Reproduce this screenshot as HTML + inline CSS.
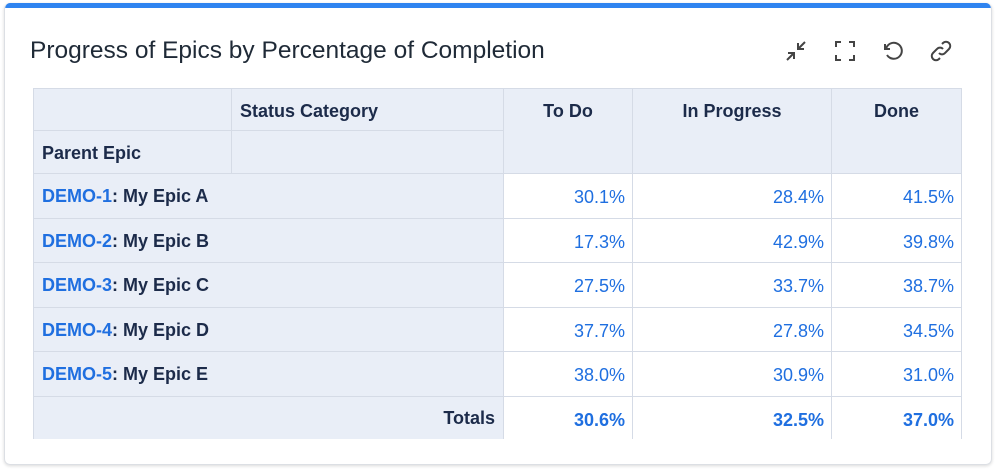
<!DOCTYPE html>
<html><head><style>
body{margin:0;width:998px;height:469px;background:#fff;font-family:"Liberation Sans",sans-serif;position:relative;overflow:hidden}
.card{position:absolute;left:4px;top:3px;width:986px;height:461px;border:1px solid #dcdfe4;border-top:none;border-radius:6px;box-shadow:0 1px 3px rgba(0,0,0,.15);overflow:hidden}
.bar{position:absolute;left:0;top:0;width:100%;height:5px;background:#2f84f0}
.title{position:absolute;left:25px;top:34px;font-size:24.5px;color:#1f2a37}
.c{position:absolute;box-sizing:border-box;border-right:1px solid #d5dbe6;border-bottom:1px solid #d5dbe6;font-size:18px}
.h{background:#e9eef7;color:#1c2b4a;font-weight:bold}
.v{color:#1f6fe0;text-align:right;padding-right:7px;background:#fff}
.ico{position:absolute;top:36px}
</style></head><body>
<div class="card"><div class="bar"></div>
<div class="title">Progress of Epics by Percentage of Completion</div>
<svg class="ico" style="left:779px" width="24" height="24" viewBox="0 0 24 24" fill="none" stroke="#444" stroke-width="2"><path d="M14 10l7-7M14 4v6h6M10 14l-7 7M4 14h6v6"/></svg>
<svg class="ico" style="left:828px" width="24" height="24" viewBox="0 0 24 24" fill="none" stroke="#444" stroke-width="2"><path d="M3 8V3h5M16 3h5v5M21 16v5h-5M8 21H3v-5"/></svg>
<svg class="ico" style="left:876px" width="24" height="24" viewBox="0 0 24 24" fill="none" stroke="#444" stroke-width="2"><path d="M4 5v5h5"/><path d="M5 10a8 8 0 1 1 1 6"/></svg>
<svg class="ico" style="left:924px" width="24" height="24" viewBox="0 0 24 24" fill="none" stroke="#444" stroke-width="2"><path d="M10 14a4 4 0 0 0 6 0l4-4a4 4 0 0 0-6-6l-1 1M14 10a4 4 0 0 0-6 0l-4 4a4 4 0 0 0 6 6l1-1"/></svg>
</div>
<div id="t"></div>
<script>
var cols=[33,232,504,633,832,962];
var h='';
function cell(x,y,w,hh,cls,txt,st){h+='<div class="c '+cls+'" style="left:'+x+'px;top:'+y+'px;width:'+w+'px;height:'+hh+'px;'+(st||'')+'">'+txt+'</div>';}
cell(33,88,199,43,'h','','border-left:1px solid #d5dbe6;border-top:1px solid #d5dbe6');
cell(232,88,272,43,'h','Status Category','padding:12px 8px;border-top:1px solid #d5dbe6');
cell(33,131,199,43,'h','Parent Epic','padding:12px 8px;border-left:1px solid #d5dbe6');
cell(232,131,272,43,'h','');
var hd=['To Do','In Progress','Done'];
for(var i=0;i<3;i++)cell(cols[i+2],88,cols[i+3]-cols[i+2],86,'h',hd[i],'text-align:center;padding-top:12px;border-top:1px solid #d5dbe6');
var rows=[['1','A','30.1%','28.4%','41.5%'],['2','B','17.3%','42.9%','39.8%'],['3','C','27.5%','33.7%','38.7%'],['4','D','37.7%','27.8%','34.5%'],['5','E','38.0%','30.9%','31.0%']];
var y=174;
rows.forEach(function(r){
cell(33,y,471,44.5,'h','<span style="color:#1f6fe0">DEMO-'+r[0]+'</span>: My Epic '+r[1],'padding:12px 8px;border-left:1px solid #d5dbe6');
for(var i=0;i<3;i++)cell(cols[i+2],y,cols[i+3]-cols[i+2],44.5,'v',r[i+2],'padding-top:13px');
y+=44.5;});
cell(33,y,471,439-y,'h','Totals','text-align:right;padding:11px 8px;border-left:1px solid #d5dbe6;border-bottom:none');
var tt=['30.6%','32.5%','37.0%'];
for(var i=0;i<3;i++)cell(cols[i+2],y,cols[i+3]-cols[i+2],439-y,'v',tt[i],'padding-top:13px;font-weight:bold;border-bottom:none');
document.getElementById('t').innerHTML=h;
</script>
</body></html>
